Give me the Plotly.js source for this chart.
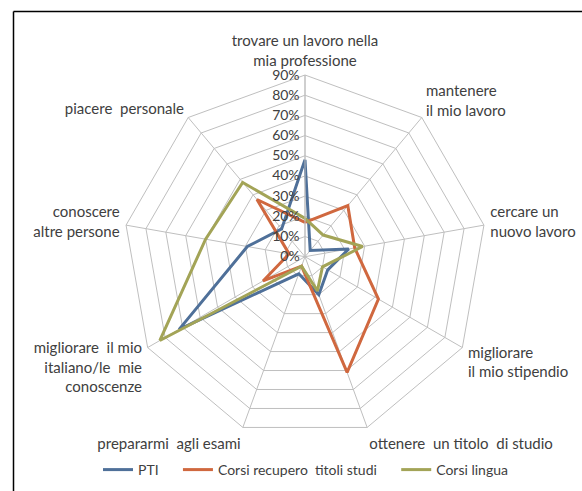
<!DOCTYPE html>
<html>
<head>
<meta charset="utf-8">
<script src="https://cdn.plot.ly/plotly-3.0.1.min.js"></script>
<style>
html,body{margin:0;padding:0;background:#fff;}
#chart{width:582px;height:491px;}
</style>
</head>
<body>
<div id="chart"></div>
<script>
var categories = [
  "trovare un lavoro nella<br>mia professione",
  "mantenere<br>il mio lavoro",
  "cercare un<br>nuovo lavoro",
  "migliorare<br>il mio stipendio",
  "ottenere  un titolo  di studio",
  "prepararmi  agli esami",
  "migliorare  il mio<br>italiano/le  mie<br>conoscenze",
  "conoscere<br>altre persone",
  "piacere  personale"
];
var seriesNames = ["PTI\u00a0\u00a0\u00a0\u00a0", "Corsi recupero  titoli studi\u00a0\u00a0\u00a0\u00a0", "Corsi lingua"];
var pti = [0.48, 0.04, 0.22, 0.13, 0.20, 0.09, 0.72, 0.29, 0.18];
var corsiRecupero = [0.17, 0.33, 0.25, 0.42, 0.61, 0.05, 0.24, 0.08, 0.37];
var corsiLingua = [0.19, 0.14, 0.29, 0.10, 0.18, 0.05, 0.83, 0.50, 0.48];
var radialTicks = [0, 0.1, 0.2, 0.3, 0.4, 0.5, 0.6, 0.7, 0.8, 0.9];

var colors = ["#4f7099", "#d0683f", "#a3a457"];
var allSeries = [pti, corsiRecupero, corsiLingua];

function closed(arr){ return arr.concat([arr[0]]); }

var traces = allSeries.map(function(vals, i){
  return {
    type: "scatterpolar",
    r: closed(vals),
    theta: closed(categories),
    mode: "lines",
    name: seriesNames[i],
    line: {color: colors[i], width: 3},
    hoverinfo: "skip"
  };
});

var cx = 305, cy = 256.7, R = 181.7, W = 582, H = 491;

var layout = {
  width: W, height: H,
  margin: {l: 0, r: 0, t: 0, b: 0},
  paper_bgcolor: "#ffffff",
  plot_bgcolor: "#ffffff",
  font: {family: "Lato, 'Open Sans', sans-serif", size: 15, color: "#404040"},
  showlegend: true,
  legend: {
    orientation: "h",
    x: 98 / W, xanchor: "left",
    y: (H - 470) / H, yanchor: "middle",
    font: {size: 14, color: "#404040"},
    tracegroupgap: 0,
    bgcolor: "rgba(0,0,0,0)"
  },
  polar: {
    domain: {
      x: [(cx - R) / W, (cx + R) / W],
      y: [(H - cy - R) / H, (H - cy + R) / H]
    },
    bgcolor: "#ffffff",
    gridshape: "linear",
    angularaxis: {
      type: "category",
      rotation: 90,
      direction: "clockwise",
      showline: true,
      linecolor: "#bfbfbf",
      linewidth: 1,
      gridcolor: "#bfbfbf",
      gridwidth: 1,
      ticks: "outside",
      ticklen: 3,
      tickcolor: "rgba(0,0,0,0)",
      tickfont: {size: 15, color: "#404040"}
    },
    radialaxis: {
      range: [0, 0.9],
      tickvals: radialTicks,
      tickformat: ".0%",
      angle: 90,
      tickangle: 90,
      side: "counterclockwise",
      showline: true,
      linecolor: "#bfbfbf",
      linewidth: 1,
      gridcolor: "#bfbfbf",
      gridwidth: 1,
      ticks: "",
      tickfont: {size: 14, color: "#404040"}
    }
  },
  shapes: [
    {type: "line", xref: "paper", yref: "paper", x0: 13.5 / W, x1: 1.01, y0: 1 - 11.5 / H, y1: 1 - 11.5 / H, line: {color: "#000000", width: 1.5}},
    {type: "line", xref: "paper", yref: "paper", x0: 13.5 / W, x1: 13.5 / W, y0: 1 - 11.5 / H, y1: -0.01, line: {color: "#000000", width: 1.5}}
  ]
};

Plotly.newPlot("chart", traces, layout, {displayModeBar: false, staticPlot: true});
</script>
</body>
</html>
